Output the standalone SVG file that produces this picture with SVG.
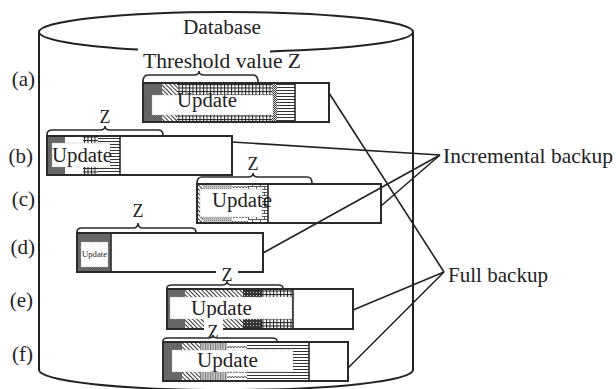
<svg xmlns="http://www.w3.org/2000/svg" width="616" height="389" viewBox="0 0 616 389">
<style>
text{font-family:"Liberation Serif","Times New Roman",serif;fill:#222}
.lbl{font-size:21px}
.z{font-size:18px;text-anchor:middle}
.upd{font-size:20px}
.box{fill:none;stroke:#2a2a2a;stroke-width:2}
.sep{stroke:#2a2a2a;stroke-width:1.6}
.brace{fill:none;stroke:#2a2a2a;stroke-width:1.6}
.inner{fill:#fff;stroke:#aaa;stroke-width:0.7;stroke-dasharray:1 1}
.wall{fill:none;stroke:#222;stroke-width:2}
.conn line{stroke:#222;stroke-width:1.6}
.dark{fill:#666}
</style>
<defs>
<pattern id="hatch" width="3" height="3" patternUnits="userSpaceOnUse" patternTransform="rotate(-45)">
<rect width="3" height="3" fill="#fff"/><rect width="1" height="3" fill="#333"/>
</pattern>
<pattern id="grid" width="3.5" height="3.5" patternUnits="userSpaceOnUse">
<rect width="3.5" height="3.5" fill="#fff"/><rect width="1" height="3.5" fill="#222"/><rect width="3.5" height="1" fill="#222"/>
</pattern>
<pattern id="check" width="2" height="2" patternUnits="userSpaceOnUse">
<rect width="2" height="2" fill="#ddd"/><rect width="1" height="1" fill="#444"/><rect x="1" y="1" width="1" height="1" fill="#444"/>
</pattern>
<pattern id="dcheck" width="3" height="3" patternUnits="userSpaceOnUse">
<rect width="3" height="3" fill="#333"/><rect x="1" y="1" width="1" height="1" fill="#ccc"/>
</pattern>
<pattern id="hstripe" width="3" height="3" patternUnits="userSpaceOnUse">
<rect width="3" height="3" fill="#fff"/><rect width="3" height="1" fill="#333"/>
</pattern>
<pattern id="vstripe" width="2.5" height="2.5" patternUnits="userSpaceOnUse">
<rect width="2.5" height="2.5" fill="#ccc"/><rect width="1" height="2.5" fill="#777"/>
</pattern>
<pattern id="dots" width="2" height="2" patternUnits="userSpaceOnUse">
<rect width="2" height="2" fill="#c4c4c4"/><rect width="1" height="1" fill="#888"/>
</pattern>
<pattern id="wave" width="6" height="5" patternUnits="userSpaceOnUse">
<rect width="6" height="5" fill="#fff"/><path d="M0,3 L1.5,1 L3,3 L4.5,1 L6,3" fill="none" stroke="#333" stroke-width="0.8"/>
</pattern>
<pattern id="brick" width="8" height="6" patternUnits="userSpaceOnUse">
<rect width="8" height="6" fill="#fff"/><path d="M0,0.5H8M0,3.5H8M0.5,0.5V3.5M4.5,3.5V6" fill="none" stroke="#333" stroke-width="0.8"/>
</pattern>
</defs>
<rect width="616" height="389" fill="#fff"/>

<g id="database">
<path class="wall" d="M39,32 A187,20 0 0 1 413,32 A187,20 0 0 1 270,51.4 M138,49.6 A187,20 0 0 1 39,32"/>
<path class="wall" d="M39,32 V370 A187,20 0 0 0 413,370 V32"/>
<text x="183" y="34" font-size="20" textLength="78" lengthAdjust="spacingAndGlyphs">Database</text>
</g>

<g id="labels">
<text class="lbl" x="35" y="86" text-anchor="end">(a)</text>
<text class="lbl" x="33" y="163" text-anchor="end">(b)</text>
<text class="lbl" x="35" y="206" text-anchor="end">(c)</text>
<text class="lbl" x="35" y="254" text-anchor="end">(d)</text>
<text class="lbl" x="33" y="307" text-anchor="end">(e)</text>
<text class="lbl" x="33" y="361" text-anchor="end">(f)</text>
</g>

<g id="node-a">
<text x="143" y="68" font-size="20" textLength="158" lengthAdjust="spacingAndGlyphs">Threshold value Z</text>
<path class="brace" d="M143,82 Q143,75 148,75 H194 Q199,75 199,71 Q199,75 204,75 H253 Q258,75 258,82"/>
<rect class="dark" x="143" y="83" width="19" height="39"/>
<rect x="162" y="83" width="15" height="39" fill="url(#hatch)"/>
<rect x="177" y="83" width="95" height="39" fill="url(#grid)"/>
<rect x="272" y="83" width="5" height="39" fill="url(#check)"/>
<rect x="277" y="83" width="18" height="39" fill="url(#hstripe)"/>
<rect class="inner" x="152" y="95" width="121" height="20"/>
<line class="sep" x1="295" y1="83" x2="295" y2="122"/>
<rect class="box" x="143" y="83" width="186" height="39"/>
<text class="upd" x="177" y="107" textLength="60" lengthAdjust="spacingAndGlyphs">Update</text>
</g>

<g id="node-b">
<text class="z" x="105" y="123">Z</text>
<path class="brace" d="M47,135 Q47,130 52,130 H100 Q105,130 105,126 Q105,130 110,130 H158 Q163,130 163,135"/>
<rect class="dark" x="47" y="136" width="18" height="39"/>
<rect x="83" y="136" width="15" height="39" fill="url(#grid)"/>
<rect x="98" y="136" width="22" height="39" fill="url(#hstripe)"/>
<rect class="inner" x="52" y="143" width="58" height="24"/>
<line class="sep" x1="120" y1="136" x2="120" y2="175"/>
<rect class="box" x="47" y="136" width="185" height="39"/>
<text class="upd" x="52" y="162" textLength="60" lengthAdjust="spacingAndGlyphs">Update</text>
</g>

<g id="node-c">
<text class="z" x="253" y="170">Z</text>
<path class="brace" d="M197,183 Q197,177 202,177 H248 Q253,177 253,173 Q253,177 258,177 H307 Q312,177 312,183"/>
<rect x="197" y="184" width="6" height="39" fill="url(#hatch)"/>
<rect x="203" y="184" width="29" height="39" fill="url(#dots)"/>
<rect x="232" y="184" width="16" height="39" fill="url(#wave)"/>
<rect x="248" y="184" width="20" height="39" fill="url(#brick)"/>
<rect class="inner" x="200" y="189" width="62" height="28"/>
<line class="sep" x1="268" y1="184" x2="268" y2="223"/>
<rect class="box" x="197" y="184" width="184" height="39"/>
<text class="upd" x="212" y="207" textLength="60" lengthAdjust="spacingAndGlyphs">Update</text>
</g>

<g id="node-d">
<text class="z" x="138" y="217">Z</text>
<path class="brace" d="M77,232 Q77,228 82,228 H133 Q138,228 138,223 Q138,228 143,228 H191 Q196,228 196,232"/>
<rect class="dark" x="77" y="233" width="34" height="39"/>
<rect class="inner" x="81" y="242" width="27" height="25"/>
<line class="sep" x1="111" y1="233" x2="111" y2="272"/>
<rect class="box" x="77" y="233" width="186" height="39"/>
<text x="82" y="257" font-size="8.5" textLength="25" lengthAdjust="spacingAndGlyphs">Update</text>
</g>

<g id="node-e">
<rect x="216" y="268" width="22" height="8" fill="#fff"/>
<text class="z" x="227" y="281">Z</text>
<path class="brace" d="M167,288 Q167,285 172,285 H222 Q227,285 227,281 Q227,285 232,285 H278 Q283,285 283,288"/>
<rect class="dark" x="167" y="289" width="18" height="40"/>
<rect x="185" y="289" width="58" height="40" fill="url(#hatch)"/>
<rect x="243" y="289" width="19" height="40" fill="url(#dcheck)"/>
<rect x="262" y="289" width="31" height="40" fill="url(#grid)"/>
<rect class="inner" x="170" y="297" width="122" height="22"/>
<line class="sep" x1="293" y1="289" x2="293" y2="329"/>
<rect class="box" x="167" y="289" width="186" height="40"/>
<text class="upd" x="191" y="315" textLength="61" lengthAdjust="spacingAndGlyphs">Update</text>
</g>

<g id="node-f">
<rect x="204" y="318" width="19" height="14" fill="#fff"/>
<text class="z" x="213" y="338">Z</text>
<path class="brace" d="M163,341 Q163,338 168,338 H208 Q213,338 213,335 Q213,338 218,338 H272 Q277,338 277,341"/>
<rect class="dark" x="163" y="342" width="19" height="39"/>
<rect x="182" y="342" width="18" height="39" fill="url(#hatch)"/>
<rect x="200" y="342" width="27" height="39" fill="url(#vstripe)"/>
<rect x="227" y="342" width="20" height="39" fill="url(#wave)"/>
<rect x="247" y="342" width="62" height="39" fill="url(#hstripe)"/>
<rect class="inner" x="172" y="350" width="121" height="22"/>
<line class="sep" x1="309" y1="342" x2="309" y2="381"/>
<rect class="box" x="163" y="342" width="185" height="39"/>
<text class="upd" x="197" y="367" textLength="61" lengthAdjust="spacingAndGlyphs">Update</text>
</g>

<g id="node-incremental">
<text x="443" y="163" font-size="21" textLength="170" lengthAdjust="spacingAndGlyphs">Incremental backup</text>
</g>
<g id="node-full">
<text x="448" y="282" font-size="21" textLength="100" lengthAdjust="spacingAndGlyphs">Full backup</text>
</g>

<g id="connectors" class="conn">
<line x1="232" y1="142" x2="440" y2="155"/>
<line x1="381" y1="206" x2="440" y2="155"/>
<line x1="263" y1="253" x2="440" y2="155"/>
<line x1="329" y1="93" x2="444" y2="272"/>
<line x1="353" y1="310" x2="444" y2="272"/>
<line x1="348" y1="368" x2="444" y2="272"/>
</g>
</svg>
